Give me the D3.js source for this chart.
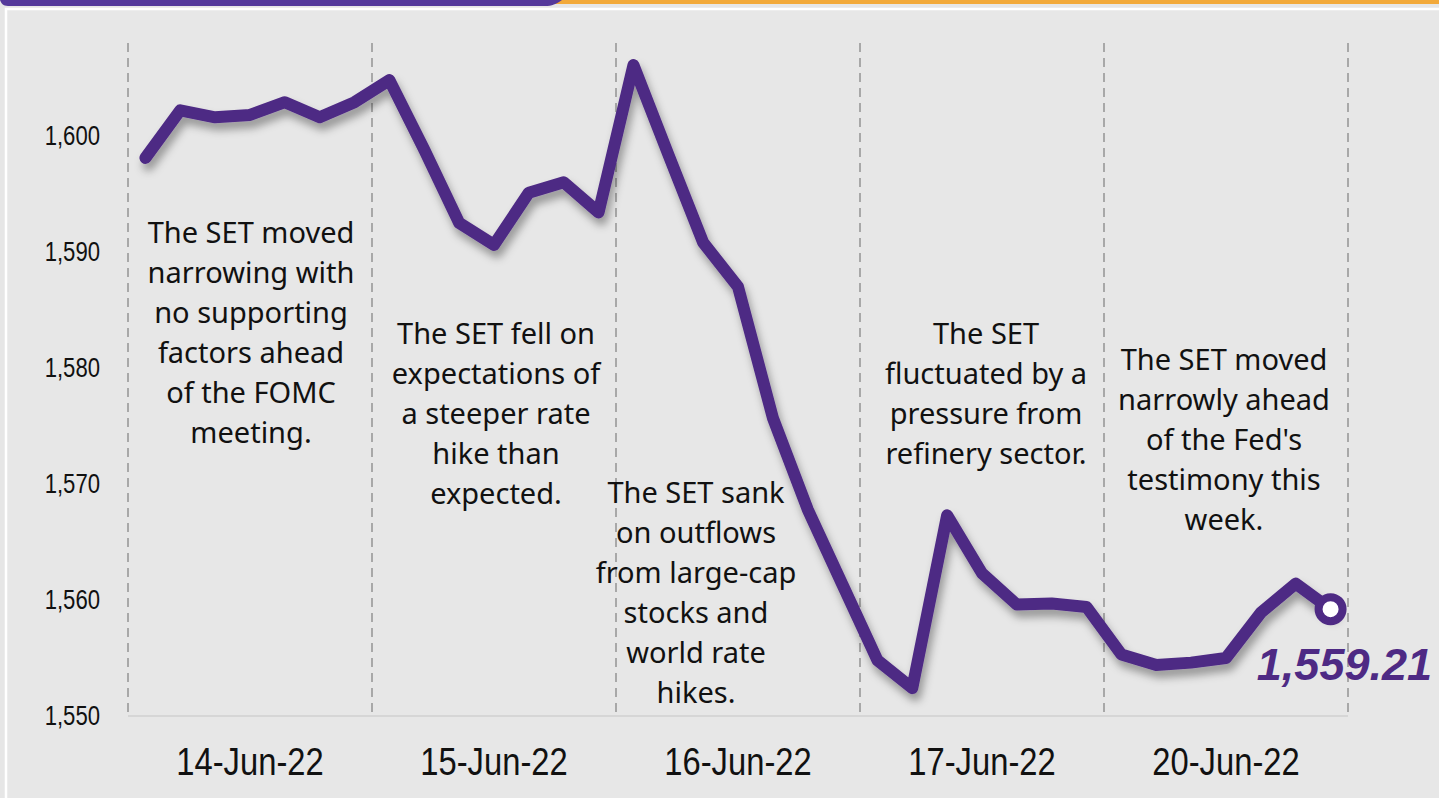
<!DOCTYPE html>
<html>
<head>
<meta charset="utf-8">
<script src="https://cdn.jsdelivr.net/npm/d3@7"></script>
<style>
    body { margin: 0; background: #e7e7e7; }
    svg { display: block; }
</style>
</head>
<body>
<div id="chart"></div>
<script>

var days = ["14-Jun-22", "15-Jun-22", "16-Jun-22", "17-Jun-22", "20-Jun-22"];

// SET index, 7 readings per trading day
var setValues = [
    1598.1, 1602.2, 1601.6, 1601.8, 1602.9, 1601.6, 1602.9,
    1604.8, 1598.8, 1592.5, 1590.6, 1595.1, 1596.0, 1593.4,
    1606.1, 1598.4, 1590.8, 1587.0, 1575.7, 1567.8, 1561.3,
    1554.8, 1552.4, 1567.3, 1562.3, 1559.6, 1559.7, 1559.4,
    1555.3, 1554.4, 1554.6, 1555.0, 1558.9, 1561.4, 1559.21
];

var yTicks = [1550, 1560, 1570, 1580, 1590, 1600];
var lastLabel = "1,559.21";

var notes = [
    ["The SET moved", "narrowing with", "no supporting", "factors ahead", "of the FOMC", "meeting."],
    ["The SET fell on", "expectations of", "a steeper rate", "hike than", "expected."],
    ["The SET sank", "on outflows", "from large-cap", "stocks and", "world rate", "hikes."],
    ["The SET", "fluctuated by a", "pressure from", "refinery sector."],
    ["The SET moved", "narrowly ahead", "of the Fed's", "testimony this", "week."]
];

var W = 1439, H = 798;
var margin = {left: 128, right: 91, top: 43, bottom: 82};
var purple = "#4e2a84";
var axisFont = "'Liberation Sans', Arial, sans-serif";

var svg = d3.select("#chart").append("svg")
    .attr("width", W)
    .attr("height", H);

var defs = svg.append("defs");
var shadow = defs.append("filter")
    .attr("id", "lineShadow")
    .attr("x", "-10%").attr("y", "-10%")
    .attr("width", "120%").attr("height", "130%");
shadow.append("feDropShadow")
    .attr("dx", 3)
    .attr("dy", 7)
    .attr("stdDeviation", 4)
    .attr("flood-color", "#000")
    .attr("flood-opacity", 0.35);

//frame and header bars
svg.append("rect")
    .attr("width", W).attr("height", H)
    .attr("fill", "#e6e6e6");
svg.append("rect")
    .attr("x", 6).attr("y", 9)
    .attr("width", W).attr("height", H)
    .attr("fill", "#e7e7e7")
    .attr("stroke", "#ffffff")
    .attr("stroke-width", 2.5);
svg.append("rect")
    .attr("x", 540).attr("y", 0)
    .attr("width", W - 540).attr("height", 4)
    .attr("fill", "#f2a93a");
svg.append("path")
    .attr("d", "M0,0 L562,0 C556,4 552,6 545,6 L8,6 C3,6 1,3 0,0 Z")
    .attr("fill", "#55399b");

var x = d3.scalePoint()
    .domain(d3.range(setValues.length))
    .range([margin.left, W - margin.right])
    .padding(0.5);

var xDay = d3.scaleBand()
    .domain(days)
    .range([margin.left, W - margin.right]);

var y = d3.scaleLinear()
    .domain([1550, 1608])
    .range([H - margin.bottom, margin.top]);

// bottom axis line
svg.append("line")
    .attr("x1", margin.left)
    .attr("x2", W - margin.right)
    .attr("y1", y(1550))
    .attr("y2", y(1550))
    .attr("stroke", "#d6d6d6")
    .attr("stroke-width", 2);

// day separators
var bounds = days.map(function(d){ return xDay(d); });
bounds.push(W - margin.right);
svg.selectAll("line.sep")
    .data(bounds)
    .enter()
    .append("line")
    .attr("class", "sep")
    .attr("x1", function(d){ return d; })
    .attr("x2", function(d){ return d; })
    .attr("y1", y(1608))
    .attr("y2", y(1550))
    .attr("stroke", "#a8a8a8")
    .attr("stroke-width", 2)
    .attr("stroke-dasharray", "9,6");

// narrow looking tick labels: regular font squeezed sideways
var yAxis = svg.append("g")
    .attr("transform", "translate(" + margin.left + ",0)")
    .call(d3.axisLeft(y).tickValues(yTicks).tickSize(0)
        .tickFormat(d3.format(",")));
yAxis.select(".domain").remove();
yAxis.selectAll("text")
    .attr("x", 0)
    .attr("transform", "translate(-28,0) scale(0.82,1)")
    .attr("font-family", axisFont)
    .attr("font-size", 27)
    .attr("fill", "#111");

var xAxis = svg.append("g")
    .attr("transform", "translate(0," + y(1550) + ")")
    .call(d3.axisBottom(xDay).tickSize(0).tickPadding(0));
xAxis.select(".domain").remove();
xAxis.selectAll("text")
    .attr("y", 59)
    .attr("dy", 0)
    .attr("transform", "scale(0.84,1)")
    .attr("font-family", axisFont)
    .attr("font-size", 39)
    .attr("fill", "#111");

// annotations
var noteShift = [1, 2, -42, 4, -2];
var noteTop = [243, 344, 503, 344, 370];
notes.forEach(function(lines, k){
    var t = svg.append("text")
        .attr("class", "note")
        .attr("x", xDay(days[k]) + xDay.bandwidth() / 2 + noteShift[k])
        .attr("y", noteTop[k])
        .attr("text-anchor", "middle")
        .attr("font-family", "'Noto Sans', 'Open Sans', sans-serif")
        .attr("font-size", 29)
        .attr("fill", "#111");
    t.selectAll("tspan")
        .data(lines)
        .enter()
        .append("tspan")
        .attr("x", t.attr("x"))
        .attr("dy", function(d, i){ return i == 0 ? 0 : 40; })
        .text(function(d){ return d; });
});

var line = d3.line()
    .x(function(d, i){ return x(i); })
    .y(function(d){ return y(d); });

svg.append("path")
    .datum(setValues)
    .attr("d", line)
    .attr("fill", "none")
    .attr("stroke", purple)
    .attr("stroke-width", 12)
    .attr("stroke-linejoin", "round")
    .attr("stroke-linecap", "round")
    .attr("filter", "url(#lineShadow)");

var last = setValues.length - 1;
svg.append("circle")
    .attr("cx", x(last))
    .attr("cy", y(setValues[last]))
    .attr("r", 12)
    .attr("fill", "#ffffff")
    .attr("stroke", purple)
    .attr("stroke-width", 8);

svg.append("text")
    .attr("x", 1432)
    .attr("y", 680)
    .attr("text-anchor", "end")
    .attr("font-family", axisFont)
    .attr("font-weight", "bold")
    .attr("font-style", "italic")
    .attr("font-size", 45)
    .attr("fill", purple)
    .text(lastLabel);

</script>
</body>
</html>
